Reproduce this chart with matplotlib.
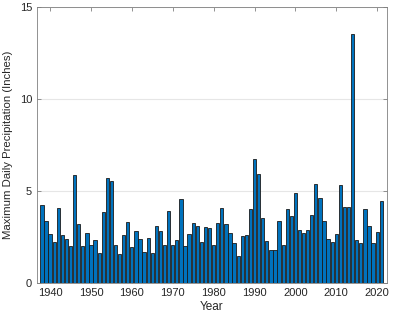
import matplotlib
matplotlib.use("Agg")
import matplotlib.pyplot as plt
import numpy as np

plt.rcParams['font.family'] = ['Liberation Sans', 'DejaVu Sans']

years = list(range(1938, 2022))
precip = [4.24, 3.37, 2.67, 2.24, 4.10, 2.62, 2.40, 2.02, 5.87, 3.23,
          2.02, 2.71, 2.06, 2.35, 1.62, 3.88, 5.72, 5.56, 2.04, 1.55,
          2.62, 3.30, 1.97, 2.80, 2.40, 1.70, 2.45, 1.62, 3.12, 2.85,
          2.04, 3.92, 2.08, 2.35, 4.55, 1.99, 2.67, 3.25, 3.12, 2.24,
          3.03, 2.98, 2.09, 3.28, 4.10, 3.21, 2.71, 2.15, 1.48, 2.53,
          2.63, 4.03, 6.73, 5.92, 3.52, 2.29, 1.80, 1.80, 3.37, 2.09,
          4.01, 3.63, 4.91, 2.87, 2.72, 2.89, 3.70, 5.40, 4.64, 3.37,
          2.40, 2.24, 2.67, 5.34, 4.15, 4.15, 13.54, 2.35, 2.15, 4.04,
          3.12, 2.18, 2.76, 4.47]
xticks = [1940, 1950, 1960, 1970, 1980, 1990, 2000, 2010, 2020]
yticks = [0, 5, 10, 15]

fig = plt.figure(figsize=(4.16, 3.19), dpi=100)
ax = fig.add_axes([37/416, 1-283/319, (387-37)/416, (283-7)/319])

ax.bar(years, precip, width=0.8, color='#0072BD', edgecolor='#1a1a1a',
       linewidth=0.6, zorder=3)

ax.set_xlim(1936.8, 2022.4)
ax.set_ylim(0, 15)
ax.set_xticks(xticks)
ax.set_yticks(yticks)
ax.yaxis.grid(True, color='#e6e6e6', linewidth=0.8, zorder=0)
ax.xaxis.grid(False)
ax.tick_params(direction='in', top=True, right=True, length=3,
               width=0.6, color='#808080', labelsize=8, labelcolor='#262626')
for s in ax.spines.values():
    s.set_color('#808080')
    s.set_linewidth(0.6)
ax.set_xlabel('Year', fontsize=8.5, color='#262626', labelpad=2)
ax.set_ylabel('Maximum Daily Precipitation (Inches)', fontsize=8.2,
              color='#262626', labelpad=5)

fig.savefig('out.png', dpi=100)
